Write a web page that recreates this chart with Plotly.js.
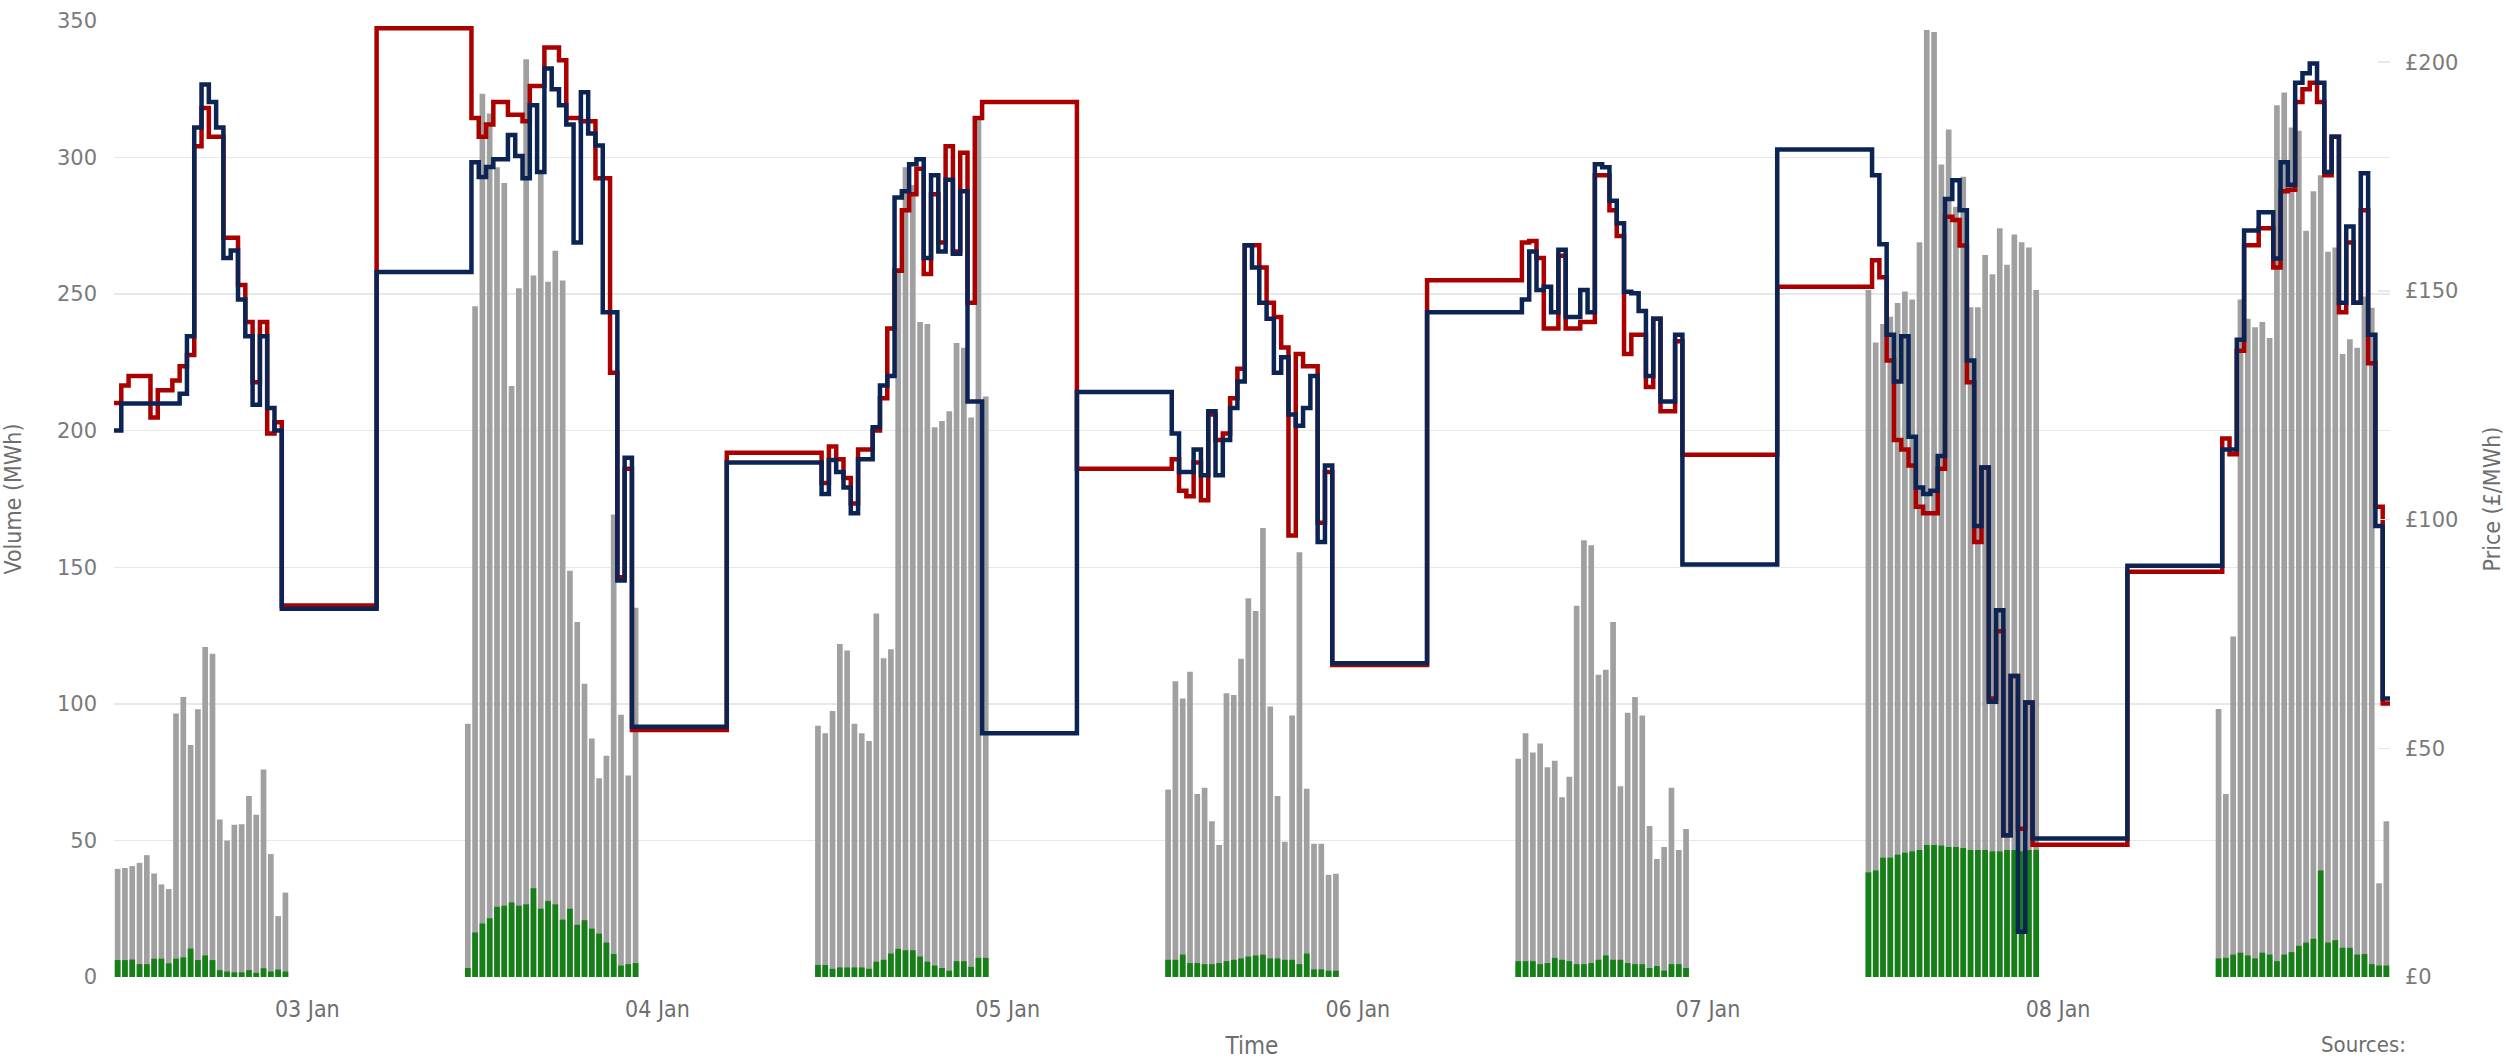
<!DOCTYPE html>
<html>
<head>
<meta charset="utf-8">
<script src="https://cdn.plot.ly/plotly-3.0.1.min.js"></script>
<style>
html,body{margin:0;padding:0;background:#ffffff;}
#chart{width:2506px;height:1060px;}
</style>
</head>
<body>
<div id="chart"></div>
<script>
// ---------- categories ----------
const days = ['2023-01-02','2023-01-03','2023-01-04','2023-01-05','2023-01-06','2023-01-07','2023-01-08'];
// half-hour volume periods (bar centres)
const halfHours = ['11:00','11:30','12:00','12:30','13:00','13:30','14:00','14:30','15:00','15:30','16:00','16:30',
                   '17:00','17:30','18:00','18:30','19:00','19:30','20:00','20:30','21:00','21:30','22:00','22:30'];
// price step start times within a day
const priceStepTimes = ['11:15','11:45','12:15','12:45','13:15','13:45','14:15','14:45','15:15','15:45','16:15',
                        '16:45','17:15','17:45','18:15','18:45','19:15','19:45','20:15','20:45','21:15','21:45'];
const priceStartTime = '10:45';
const nightStartA = '22:15';
const nightStartB = '04:45';
const priceEndTime = '22:45';

// ---------- volumes (MWh) ----------
const volTotal02 = [39.6,39.9,40.6,41.8,44.6,37.9,33.9,32.2,96.5,102.5,84.9,98.0,120.8,118.3,57.7,50.0,55.7,55.9,66.3,59.4,76.0,45.0,22.3,30.9];
const volGreen02 = [6.2,6.2,6.4,4.7,4.7,6.7,6.7,5.0,6.7,7.2,10.4,6.2,7.9,6.2,2.5,2.0,1.7,1.7,2.5,1.5,3.2,2.0,2.7,2.0];
const volTotal03 = [92.7,245.6,323.4,316.1,296.5,290.7,216.4,252.2,336.0,256.8,294.2,254.5,265.9,255.0,148.7,130.0,107.4,87.3,72.8,81.0,169.3,96.0,73.8,135.2];
const volGreen03 = [3.3,16.3,19.6,21.5,25.7,26.1,27.3,26.1,26.6,32.5,25.0,27.8,26.6,21.0,25.0,19.1,20.8,17.7,15.9,12.6,8.4,4.2,4.7,5.1];
const volTotal04 = [92.0,89.2,97.4,121.9,119.5,92.7,89.2,86.4,133.1,116.7,120.0,259.6,296.5,290.0,239.8,239.1,201.3,203.6,207.1,232.1,230.4,204.8,314.5,212.5];
const volGreen04 = [4.4,4.4,3.0,3.5,3.5,3.5,3.5,3.0,5.6,6.3,8.6,10.3,9.8,9.8,7.5,5.6,4.2,3.3,2.3,5.8,5.8,3.7,7.0,7.0];
const volTotal05 = [68.6,108.3,102.0,111.8,67.0,69.3,57.0,48.3,103.9,103.2,116.5,138.7,134.0,164.4,99.0,66.3,49.5,95.7,155.5,68.9,48.8,48.8,37.4,37.8];
const volGreen05 = [6.3,6.3,8.2,5.1,5.1,4.7,4.7,5.1,5.8,6.3,6.8,7.5,7.9,8.2,6.8,6.8,6.3,6.3,4.7,8.6,2.8,2.8,2.3,2.3];
const volTotal06 = [79.9,89.2,82.2,85.5,76.8,79.2,65.8,73.3,135.9,159.9,158.1,110.7,112.5,130.0,69.8,96.7,102.5,95.7,55.3,43.2,47.6,69.3,46.5,54.2];
const volGreen06 = [5.8,5.8,5.8,4.7,5.1,7.0,6.3,5.8,4.7,4.7,5.1,6.3,7.9,6.3,6.3,5.1,4.7,4.7,3.3,4.0,2.3,4.7,4.7,3.3];
const volTotal07 = [251.5,232.3,239.1,241.7,246.8,251.0,248.0,269.0,346.7,346.0,297.5,310.3,282.0,293.0,245.2,245.2,264.3,257.3,274.1,260.8,271.8,269.0,267.1,251.5];
const volGreen07 = [38.3,39.0,43.7,43.7,44.8,45.5,46.0,46.5,48.3,48.3,48.1,47.6,47.6,47.2,46.5,46.5,46.5,46.0,46.0,46.5,46.5,46.0,46.5,46.5];
const volTotal08 = [98.1,67.0,124.7,248.0,241.0,237.9,239.8,233.9,319.2,323.8,311.0,309.8,273.2,287.7,293.5,265.5,267.1,228.1,233.5,230.4,249.1,245.0,34.3,57.0];
const volGreen08 = [6.8,7.0,8.2,8.9,7.9,6.8,8.9,8.2,5.8,8.2,9.1,11.4,12.6,14.0,39.0,12.6,13.5,10.7,10.7,8.2,8.4,4.7,4.2,4.2];

// ---------- prices (£/MWh) ----------
const redStart = 125.5;
const navyStart = 119.5;
const redDay02 = [129.3,131.4,131.4,131.4,122.3,128.3,128.3,130.4,133.5,136.0,181.6,190.0,183.7,183.7,161.6,161.6,151.3,143.2,130.0,143.2,118.8,121.3];
const navyDay02 = [125.4,125.4,125.4,125.4,125.4,125.4,125.4,125.4,127.5,140.1,185.7,195.1,191.3,185.7,157.2,158.8,148.1,140.1,125.1,140.1,124.4,119.5];
const redDay03 = [187.8,183.7,186.4,191.3,191.3,188.5,188.5,187.1,194.8,194.8,203.2,203.2,200.4,187.8,187.8,187.1,187.1,174.6,174.6,132.1,87.4,111.1];
const navyDay03 = [178.1,174.9,177.1,178.8,178.8,184.1,179.5,174.6,190.6,176.0,198.6,194.1,190.6,186.4,160.6,193.4,184.4,181.8,145.3,145.3,86.7,113.5];
const redDay04 = [108.0,116.0,113.2,109.1,103.5,115.3,115.3,119.5,126.5,141.8,154.4,167.6,171.1,176.7,153.7,171.1,160.6,181.6,158.6,180.2,147.4,187.8];
const navyDay04 = [105.6,113.0,110.4,107.0,101.4,113.2,113.2,120.2,129.3,131.4,170.4,171.8,177.7,178.8,157.2,175.3,158.6,174.3,158.1,171.8,125.8,125.8];
const redDay05 = [113.2,106.3,105.1,112.5,104.2,123.0,117.4,118.8,126.5,133.0,160.0,160.0,155.1,147.4,144.3,137.6,96.5,136.2,133.5,133.5,99.3,110.4];
const navyDay05 = [118.8,110.4,110.4,115.3,109.7,123.7,109.7,117.4,124.4,130.2,160.0,155.1,147.4,143.9,132.1,135.5,123.0,120.5,124.4,131.4,95.1,111.8];
const redDay06 = [160.6,160.9,157.2,141.8,141.8,157.7,141.8,141.8,143.2,143.2,175.3,175.3,167.6,162.0,136.2,140.4,140.4,129.0,143.9,123.7,123.7,139.0];
const navyDay06 = [148.1,158.6,150.2,150.9,145.3,159.0,144.3,144.3,150.2,145.3,177.7,177.0,169.7,164.8,149.8,149.5,145.6,131.4,143.9,125.8,125.8,140.4];
const redDay07 = [156.7,153.0,134.8,117.4,115.3,111.8,102.8,101.4,101.4,111.1,166.2,165.5,159.9,130.0,95.1,111.4,60.9,75.6,31.0,65.8,32.4,60.0];
const navyDay07 = [175.3,160.2,140.4,130.2,140.1,118.1,107.0,105.6,106.3,113.9,170.1,174.2,167.6,134.8,98.6,111.4,60.2,80.2,31.0,65.8,9.9,60.0];
const redDay08 = [117.7,114.3,136.9,160.0,160.0,163.7,163.7,155.1,171.8,172.1,191.3,194.1,195.5,191.3,175.3,183.7,145.3,160.6,147.4,167.6,134.2,102.8];
const navyDay08 = [115.3,115.3,139.3,163.2,163.2,167.2,167.2,157.1,178.1,173.2,195.5,197.6,199.7,195.5,176.0,183.7,147.4,164.1,147.4,175.7,140.4,98.6];
// overnight blocks: A = late evening to early morning, B = early morning to late morning
const redNightA  = [81.2,54.0,191.3,68.2,114.2,28.9,59.8];
const navyNightA = [80.5,54.7,53.3,68.6,90.2,30.3,60.9];
const redNightB  = [207.4,114.6,111.1,152.3,150.9,88.6];
const navyNightB = [154.1,112.5,127.9,145.3,180.9,89.9];

// ---------- build traces ----------
const volTotals = [volTotal02,volTotal03,volTotal04,volTotal05,volTotal06,volTotal07,volTotal08];
const volGreens = [volGreen02,volGreen03,volGreen04,volGreen05,volGreen06,volGreen07,volGreen08];
const redDays = [redDay02,redDay03,redDay04,redDay05,redDay06,redDay07,redDay08];
const navyDays = [navyDay02,navyDay03,navyDay04,navyDay05,navyDay06,navyDay07,navyDay08];

const barX = [], barTotal = [], barGreen = [];
days.forEach((d, i) => {
  halfHours.forEach((h, k) => {
    barX.push(d + ' ' + h);
    barTotal.push(volTotals[i][k]);
    barGreen.push(volGreens[i][k]);
  });
});

function priceSeries(start, dayArrays, nightA, nightB) {
  const x = [days[0] + ' ' + priceStartTime];
  const y = [start];
  days.forEach((d, i) => {
    priceStepTimes.forEach((t, k) => { x.push(d + ' ' + t); y.push(dayArrays[i][k]); });
    x.push(d + ' ' + nightStartA); y.push(nightA[i]);
    if (i < days.length - 1) { x.push(days[i + 1] + ' ' + nightStartB); y.push(nightB[i]); }
  });
  x.push(days[days.length - 1] + ' ' + priceEndTime); y.push(nightA[nightA.length - 1]);
  return {x, y};
}
const redS = priceSeries(redStart, redDays, redNightA, redNightB);
const navyS = priceSeries(navyStart, navyDays, navyNightA, navyNightB);

const traces = [
  {type:'bar', x:barX, y:barTotal, yaxis:'y', marker:{color:'#a0a0a0'}, name:'Volume', hoverinfo:'x+y'},
  {type:'bar', x:barX, y:barGreen, yaxis:'y', marker:{color:'#158016'}, name:'Volume (green)', hoverinfo:'x+y'},
  {type:'scatter', mode:'lines', x:redS.x, y:redS.y, yaxis:'y2', line:{shape:'hv', color:'#aa0000', width:4.5}, name:'Price A'},
  {type:'scatter', mode:'lines', x:navyS.x, y:navyS.y, yaxis:'y2', line:{shape:'hv', color:'#0b2453', width:4.5}, name:'Price B'}
];

const tickFontNum = {family:'DejaVu Sans, sans-serif', size:21, color:'#7a7a7a'};
const condFont = {family:'DejaVu Sans Condensed, Liberation Sans Narrow, sans-serif', size:23, color:'#6e6e6e'};

const layout = {
  width:2506, height:1060,
  margin:{l:114, r:116, t:21, b:83, pad:0},
  paper_bgcolor:'#ffffff', plot_bgcolor:'#ffffff',
  showlegend:false,
  barmode:'overlay', bargap:0.22,
  xaxis:{
    type:'date',
    range:['2023-01-02 10:45','2023-01-08 22:45'],
    tick0:'2023-01-03', dtick:86400000, tickformat:'%d %b',
    showgrid:false, zeroline:false, showline:false, ticks:'',
    tickfont:condFont, ticklabelstandoff:16,
    title:{text:'Time', font:{family:condFont.family, size:24, color:'#6e6e6e'}, standoff:16},
    automargin:false
  },
  yaxis:{
    range:[0,350], dtick:50,
    showgrid:true, gridcolor:'#e8e8e8', gridwidth:1.5,
    zeroline:false, showline:false, ticks:'',
    tickfont:tickFontNum, ticklabelstandoff:16,
    title:{text:'Volume (MWh)', font:{family:condFont.family, size:23, color:'#6e6e6e'}, standoff:32},
    automargin:false
  },
  yaxis2:{
    overlaying:'y', side:'right',
    range:[0,209], dtick:50, tickprefix:'£',
    showgrid:false, zeroline:false, showline:false,
    ticks:'inside', ticklen:12, tickwidth:1.5, tickcolor:'#e8e8e8',
    tickfont:tickFontNum, ticklabelstandoff:14,
    title:{text:'Price (£/MWh)', font:{family:condFont.family, size:23, color:'#6e6e6e'}, standoff:26},
    automargin:false
  },
  annotations:[{
    text:'Sources:', xref:'paper', yref:'paper', x:1.0079, y:-0.0708,
    xanchor:'right', yanchor:'middle', showarrow:false,
    font:{family:condFont.family, size:22, color:'#6e6e6e'}
  }]
};

Plotly.newPlot('chart', traces, layout, {displayModeBar:false, staticPlot:true});
</script>
</body>
</html>
